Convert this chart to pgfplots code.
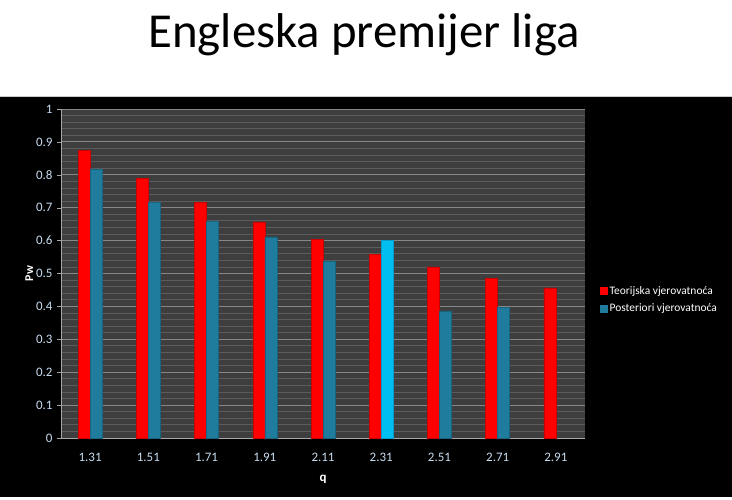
\documentclass[border=0pt]{standalone}
\usepackage{fontspec}
\setmainfont{Carlito}
\usepackage{pgfplots}
\pgfplotsset{compat=1.18}
\definecolor{plotbg}{RGB}{62,62,62}
\definecolor{gridmin}{RGB}{92,92,92}
\definecolor{gridmaj}{RGB}{135,135,135}
\definecolor{ticklab}{RGB}{200,220,240}
\definecolor{barred}{RGB}{255,0,0}
\definecolor{barredd}{RGB}{200,0,0}
\definecolor{barblue}{RGB}{32,124,156}
\definecolor{barblued}{RGB}{24,100,128}
\definecolor{barcyan}{RGB}{0,190,240}
\definecolor{barcyand}{RGB}{0,155,205}
\begin{document}
\begin{tikzpicture}[x=1bp,y=1bp]
\path[use as bounding box] (0,0) rectangle (732,500);
\fill[black] (0,3) rectangle (732,404);
\draw[gray!40] (0,404) -- (732,404);
\node[anchor=base,font=\fontsize{49}{54}\selectfont] at (364,452) {Engleska premijer liga};
\begin{axis}[at={(61bp,62bp)}, anchor=south west, scale only axis,
  width=524bp, height=329bp,
  xmin=-0.5, xmax=8.5, ymin=0, ymax=1,
  xtick={0,1,2,3,4,5,6,7,8},
  xticklabels={1.31,1.51,1.71,1.91,2.11,2.31,2.51,2.71,2.91},
  ytick={0,0.1,0.2,0.3,0.4,0.5,0.6,0.7,0.8,0.9,1},
  yticklabels={0,0.1,0.2,0.3,0.4,0.5,0.6,0.7,0.8,0.9,1},
  minor y tick num=4,
  ymajorgrids, yminorgrids,
  major grid style={draw=gridmaj, line width=0.8bp},
  minor grid style={draw=gridmin, line width=0.8bp},
  axis background/.style={fill=plotbg},
  axis lines*=left,
  axis line style={draw=gray!70, line width=0.8bp},
  tick align=outside,
  major tick length=4bp, minor tick length=0bp,
  xtick style={draw=none},
  ytick style={draw=gray!70},
  /pgf/number format/assume math mode=true,
  yticklabel style={font=\fontsize{13}{15}\selectfont, text=ticklab, xshift=-1bp},
  xticklabel style={font=\fontsize{13}{15}\selectfont, text=ticklab, yshift=-8bp},
  ylabel={Pw}, xlabel={q},
  ylabel style={font=\bfseries\fontsize{12}{14}\selectfont, text=white, yshift=-4bp},
  xlabel style={font=\bfseries\fontsize{13}{14}\selectfont, text=white, yshift=-6bp},
  legend style={draw=none, fill=none, text=white, font=\fontsize{11.5}{14}\selectfont,
    at={(1,0.42)}, anchor=west, xshift=12bp, row sep=4bp},
  legend cell align=left,
  clip=false,
]
\addplot[ybar, bar width=12bp, bar shift=-6bp, draw=barredd, fill=barred,
  legend image code/.code={\fill[barred] (0bp,-3.5bp) rectangle (7bp,3.5bp);}]
  coordinates {(0,0.875) (1,0.790) (2,0.717) (3,0.657) (4,0.604) (5,0.559) (6,0.520) (7,0.486) (8,0.456)};
\addlegendentry{Teorijska vjerovatnoća}
\addplot[ybar, bar width=12bp, bar shift=6bp, draw=barblued, fill=barblue,
  legend image code/.code={\fill[barblue] (0bp,-3.5bp) rectangle (7bp,3.5bp);}]
  coordinates {(0,0.818) (1,0.717) (2,0.660) (3,0.611) (4,0.538) (6,0.386) (7,0.398)};
\addlegendentry{Posteriori vjerovatnoća}
\addplot[ybar, bar width=12bp, bar shift=6bp, draw=barcyand, fill=barcyan, forget plot]
  coordinates {(5,0.600)};
\end{axis}
\end{tikzpicture}
\end{document}
